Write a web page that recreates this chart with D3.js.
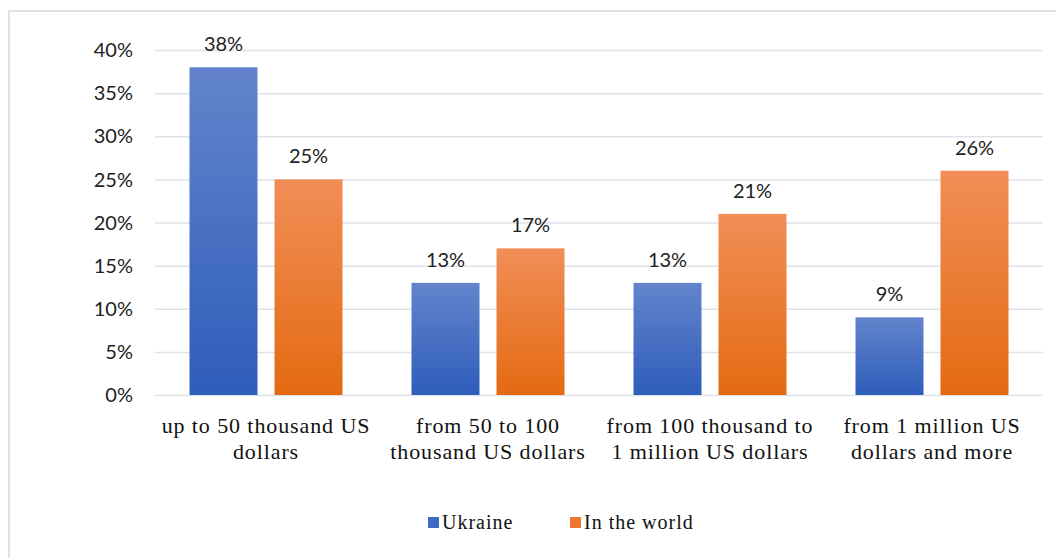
<!DOCTYPE html>
<html>
<head>
<meta charset="utf-8">
<script src="https://cdn.jsdelivr.net/npm/d3@7"></script>
<style>
  body { margin: 0; background: #fff; }
  svg { display: block; }
</style>
</head>
<body>
<svg></svg>
<script>
let categories = [
  ['up to 50 thousand US', 'dollars'],
  ['from 50 to 100', 'thousand US dollars'],
  ['from 100 thousand to', '1 million US dollars'],
  ['from 1 million US', 'dollars and more']
]
let seriesNames = ['Ukraine', 'In the world']
let ukraine = [38, 13, 13, 9]
let world = [25, 17, 21, 26]
let yTicks = [0, 5, 10, 15, 20, 25, 30, 35, 40]

let width = 1056
let height = 558
let plotLeft = 155, plotRight = 1043, plotTop = 50, plotBottom = 395

let svg = d3.select('svg').attr('width', width).attr('height', height)

// gradients
let defs = svg.append('defs')
let grads = [['gBlue', '#6384cc', '#2e5dba'], ['gOrange', '#f18e57', '#e46a12']]
grads.forEach(g => {
  let lg = defs.append('linearGradient').attr('id', g[0])
    .attr('x1', 0).attr('y1', 0).attr('x2', 0).attr('y2', 1)
  lg.append('stop').attr('offset', '0%').attr('stop-color', g[1])
  lg.append('stop').attr('offset', '100%').attr('stop-color', g[2])
})

// frame
svg.append('rect').attr('x', 9).attr('y', 11).attr('width', 1060).attr('height', 560)
   .attr('fill', 'none').attr('stroke', '#dde1e9').attr('stroke-width', 2)

let x0 = d3.scaleBand().domain(d3.range(categories.length)).range([plotLeft, plotRight])
let yScale = d3.scaleLinear().domain([0, 40]).range([plotBottom, plotTop])

// grid
svg.append('g').selectAll('line').data(yTicks).enter().append('line')
   .attr('x1', plotLeft).attr('x2', plotRight)
   .attr('y1', d => yScale(d) + 0.5).attr('y2', d => yScale(d) + 0.5)
   .attr('stroke', '#dfe2e9').attr('stroke-width', 1.5)

// y labels
svg.append('g').selectAll('text').data(yTicks).enter().append('text')
   .attr('x', 133).attr('y', d => yScale(d))
   .attr('dy', '0.36em')
   .attr('text-anchor', 'end')
   .style('font-family', 'Lato, sans-serif').style('font-size', '20px').attr('fill', '#222')
   .text(d => d + '%')

// two bars of 68 with a 17 gap, centred in each category
let series = [ukraine, world]
let fills = ['url(#gBlue)', 'url(#gOrange)']
let x1 = d3.scaleBand().domain([0, 1]).range([-76.5, 76.5]).paddingInner(0.2)

series.forEach((vals, s) => {
  let g = svg.append('g')
  g.selectAll('rect').data(vals).enter().append('rect')
   .attr('x', (d, i) => x0(i) + x0.bandwidth() / 2 + x1(s))
   .attr('y', d => yScale(d))
   .attr('width', x1.bandwidth())
   .attr('height', d => plotBottom - yScale(d))
   .attr('fill', fills[s])
  g.selectAll('text').data(vals).enter().append('text')
   .attr('x', (d, i) => x0(i) + x0.bandwidth() / 2 + x1(s) + x1.bandwidth() / 2)
   .attr('y', d => yScale(d) - 16)
   .attr('text-anchor', 'middle')
   .style('font-family', 'Lato, sans-serif').style('font-size', '20px').attr('fill', '#222')
   .text(d => d + '%')
})

// category labels
let cat = svg.append('g').selectAll('text').data(categories).enter().append('text')
   .attr('x', (d, i) => x0(i) + x0.bandwidth() / 2)
   .attr('y', 433)
   .attr('text-anchor', 'middle')
   .style('font-family', '"Liberation Serif", serif').style('font-size', '22px')
   .style('letter-spacing', '0.9px').attr('fill', '#111')
cat.selectAll('tspan').data(d => d).enter().append('tspan')
   .attr('x', function () { return d3.select(this.parentNode).attr('x') })
   .attr('dy', (d, i) => i === 0 ? 0 : 26)
   .text(d => d)

// legend
let legendX = [428, 570]
let colors = ['#3f69c2', '#ea7630']
seriesNames.forEach((n, i) => {
  svg.append('rect').attr('x', legendX[i]).attr('y', 517).attr('width', 11).attr('height', 11).attr('fill', colors[i])
  svg.append('text').attr('x', legendX[i] + 14).attr('y', 529)
     .style('font-family', '"Liberation Serif", serif').style('font-size', '20px')
     .style('letter-spacing', '1px').attr('fill', '#111')
     .text(n)
})
</script>
</body>
</html>
